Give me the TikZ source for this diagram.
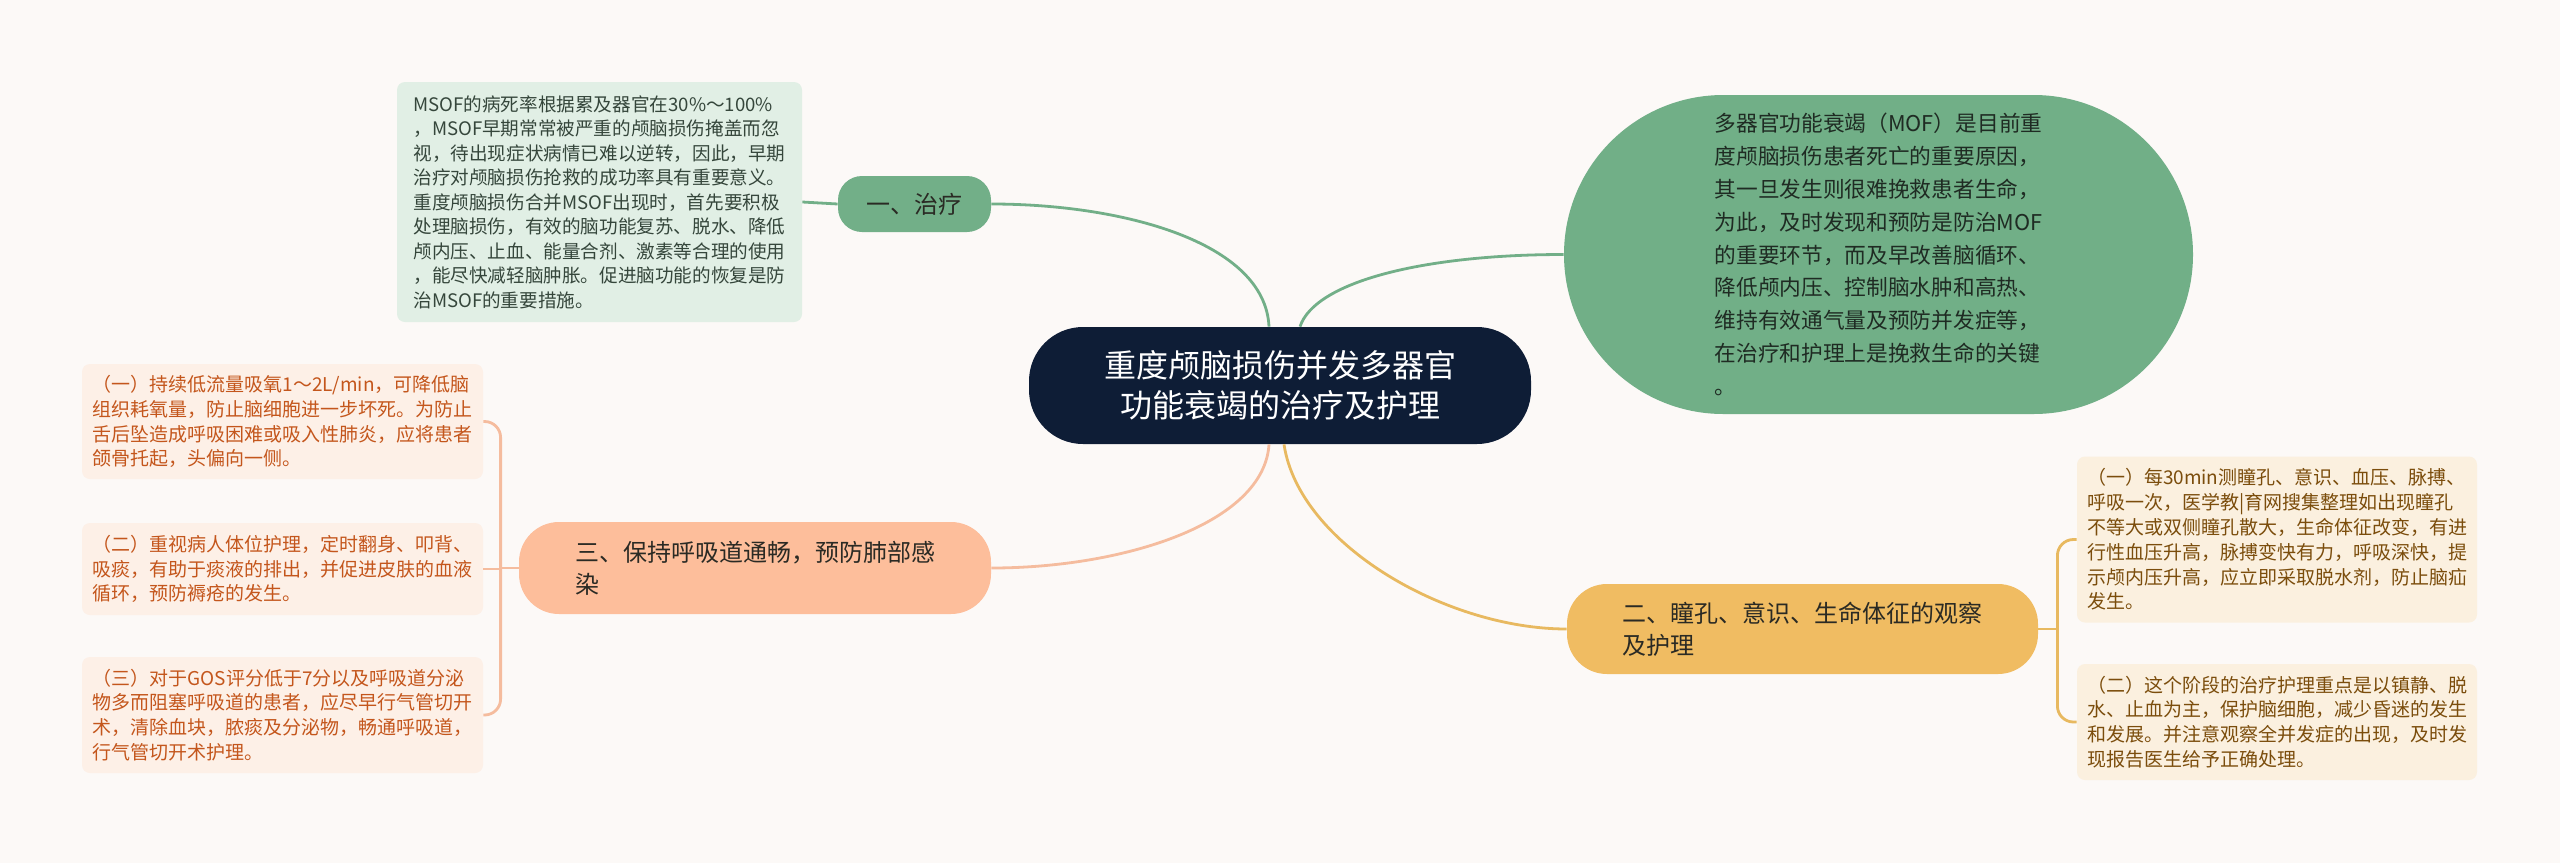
\documentclass[tikz,border=0pt]{standalone}
\usepackage{fontspec}
\setmainfont{Noto Sans CJK SC}
\usetikzlibrary{calc}
\definecolor{bg}{HTML}{FCF9F7}
\definecolor{rootc}{HTML}{0E1D36}
\definecolor{greenc}{HTML}{72AF88}
\definecolor{greenl}{HTML}{E1EFE5}
\definecolor{greent}{HTML}{35463B}
\definecolor{mofc}{HTML}{71AF87}
\definecolor{moft}{HTML}{1F2B23}
\definecolor{salc}{HTML}{FDBE9B}
\definecolor{sall}{HTML}{F5BC9E}
\definecolor{salbox}{HTML}{FDF0E7}
\definecolor{salt}{HTML}{C4561C}
\definecolor{goldc}{HTML}{F0BC62}
\definecolor{goldl}{HTML}{E8B960}
\definecolor{goldbox}{HTML}{FBF0DF}
\definecolor{goldt}{HTML}{7B4D0C}
\definecolor{darkt}{HTML}{2A2A24}
\begin{document}
\begin{tikzpicture}[x=0.5pt,y=-0.5pt,
  rootnode/.style={fill=rootc, rounded corners=27pt, minimum width=251pt, minimum height=58.5pt, text=white, align=center, inner sep=0pt, font=\fontsize{16}{20}\selectfont},
  topic/.style={rounded corners=#1, align=left, inner sep=0pt, text=darkt, font=\fontsize{12}{16}\selectfont},
  smallbox/.style={rounded corners=4pt, align=left, inner sep=0pt, font=\fontsize{9.5}{12.4}\selectfont},
  gline/.style={draw=greenc, line width=1.4pt},
  sline/.style={draw=sall, line width=1.4pt},
  oline/.style={draw=goldl, line width=1.4pt},
]
\fill[bg] (0,0) rectangle (2560,863);
\useasboundingbox (0,0) rectangle (2560,863);

% root
\node[rootnode] (root) at (1280,385.5) {重度颅脑损伤并发多器官\\功能衰竭的治疗及护理};

% branch 1
\node[topic=12pt, fill=greenc, minimum width=76.5pt, minimum height=28pt] (t1) at (914.5,204) {一、治疗};
\node[smallbox, fill=greenl, text=greent, minimum width=202.5pt, minimum height=120pt, font=\fontsize{9.3}{12.25}\selectfont] (t1b) at (599.5,202) {MSOF的病死率根据累及器官在30\%～100\%\\，MSOF早期常常被严重的颅脑损伤掩盖而忽\\视，待出现症状病情已难以逆转，因此，早期\\治疗对颅脑损伤抢救的成功率具有重要意义。\\重度颅脑损伤合并MSOF出现时，首先要积极\\处理脑损伤，有效的脑功能复苏、脱水、降低\\颅内压、止血、能量合剂、激素等合理的使用\\，能尽快减轻脑肿胀。促进脑功能的恢复是防\\治MSOF的重要措施。};

% MOF blob
\node[fill=mofc, rounded corners=79.7pt, minimum width=314.5pt, minimum height=159.5pt, inner sep=0pt, align=left, text=moft, font=\fontsize{10.85}{16.4}\selectfont] (mof) at (1878.5,254.5) {多器官功能衰竭（MOF）是目前重\\度颅脑损伤患者死亡的重要原因，\\其一旦发生则很难挽救患者生命，\\为此，及时发现和预防是防治MOF\\的重要环节，而及早改善脑循环、\\降低颅内压、控制脑水肿和高热、\\维持有效通气量及预防并发症等，\\在治疗和护理上是挽救生命的关键\\。};

% branch 2
\node[topic=20pt, fill=goldc, minimum width=235.5pt, minimum height=45pt] (t2) at (1802.5,629) {二、瞳孔、意识、生命体征的观察\\及护理};
\node[smallbox, fill=goldbox, text=goldt, minimum width=200pt, minimum height=83pt] (r1) at (2277,539.5) {（一）每30min测瞳孔、意识、血压、脉搏、\\呼吸一次，医学教|育网搜集整理如出现瞳孔\\不等大或双侧瞳孔散大，生命体征改变，有进\\行性血压升高，脉搏变快有力，呼吸深快，提\\示颅内压升高，应立即采取脱水剂，防止脑疝\\发生。};
\node[smallbox, fill=goldbox, text=goldt, minimum width=200pt, minimum height=58pt] (r2) at (2277,722) {（二）这个阶段的治疗护理重点是以镇静、脱\\水、止血为主，保护脑细胞，减少昏迷的发生\\和发展。并注意观察全并发症的出现，及时发\\现报告医生给予正确处理。};

% branch 3
\node[topic=20pt, fill=salc, minimum width=236pt, minimum height=46pt] (t3) at (755,568) {三、保持呼吸道通畅，预防肺部感\\染};
\node[smallbox, fill=salbox, text=salt, minimum width=200.5pt, minimum height=57.5pt] (l1) at (282.5,421.5) {（一）持续低流量吸氧1～2L/min，可降低脑\\组织耗氧量，防止脑细胞进一步坏死。为防止\\舌后坠造成呼吸困难或吸入性肺炎，应将患者\\颌骨托起，头偏向一侧。};
\node[smallbox, fill=salbox, text=salt, minimum width=200.5pt, minimum height=46pt] (l2) at (282.5,569) {（二）重视病人体位护理，定时翻身、叩背、\\吸痰，有助于痰液的排出，并促进皮肤的血液\\循环，预防褥疮的发生。};
\node[smallbox, fill=salbox, text=salt, minimum width=200.5pt, minimum height=58pt] (l3) at (282.5,715) {（三）对于GOS评分低于7分以及呼吸道分泌\\物多而阻塞呼吸道的患者，应尽早行气管切开\\术，清除血块，脓痰及分泌物，畅通呼吸道，\\行气管切开术护理。};

% connectors from root
\draw[gline] ($(root.north)+(-11,0)$) .. controls +(-4,-85) and +(130,0) .. (t1.east);
\draw[gline] ($(root.north)+(20,0)$) .. controls +(15,-45) and +(-140,0) .. (mof.west);
\draw[sline] ($(root.south)+(-11,0)$) .. controls +(-5,80) and +(130,0) .. (t3.east);
\draw[oline] ($(root.south)+(4,0)$) .. controls +(15,100) and +(-120,0) .. (t2.west);

% branch 1 detail
\draw[gline] (t1.west) -- (t1b.east);

% branch 2 details
\coordinate (j2) at ($(t2.east)+(19,0)$);
\draw[oline] (t2.east) -- (j2);
\draw[oline, rounded corners=8pt] (j2) |- (r1.west);
\draw[oline, rounded corners=8pt] (j2) |- (r2.west);

% branch 3 details
\coordinate (j3) at ($(t3.west)+(-18,0)$);
\draw[sline] (t3.west) -- (j3);
\draw[sline, rounded corners=8pt] (j3) |- (l1.east);
\draw[sline] (j3) |- (l2.east);
\draw[sline, rounded corners=8pt] (j3) |- (l3.east);
\end{tikzpicture}
\end{document}
